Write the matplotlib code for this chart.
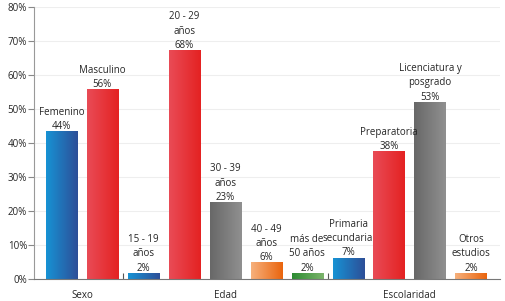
import numpy as np
import matplotlib
matplotlib.use("Agg")
import matplotlib.pyplot as plt
from matplotlib.transforms import blended_transform_factory
from matplotlib.colors import LinearSegmentedColormap

plt.rcParams['font.family'] = ['Open Sans', 'DejaVu Sans']

# -------------------------------
# Data
# -------------------------------
bar_labels = ["Femenino\n44%", "Masculino\n56%",
              "15 - 19\naños\n2%", "20 - 29\naños\n68%", "30 - 39\naños\n23%",
              "40 - 49\naños\n6%", "más de\n50 años\n2%",
              "Primaria\nsecundaria\n7%", "Preparatoria\n38%",
              "Licenciatura y\nposgrado\n53%", "Otros\nestudios\n2%"]
values = [43.5, 55.8, 1.8, 67.3, 22.6, 4.9, 1.8, 6.3, 37.6, 52.1, 1.8]
bar_colors = ["blue", "red", "blue", "red", "gray", "orange", "green",
              "blue", "red", "gray", "orange"]
groups = ["Sexo", "Edad", "Escolaridad"]
group_sizes = [2, 5, 4]

# left -> right gradient colours
gradients = {
    "blue": ("#1792d4", "#2d4f98"),
    "red": ("#e94b56", "#e42222"),
    "gray": ("#686868", "#909090"),
    "orange": ("#f6b07c", "#ea650e"),
    "green": ("#2c8c32", "#7cb46c"),
}

# -------------------------------
# Figure
# -------------------------------
fig = plt.figure(figsize=(5.05, 3.01), dpi=100)
ax = fig.add_axes([34 / 505, 1 - 279 / 301, 466 / 505, 272 / 301])

x = np.arange(len(values))
bars = ax.bar(x, values, width=0.76, color="none", edgecolor="none", zorder=2)

grad = np.linspace(0, 1, 64).reshape(1, -1)
for b, c in zip(bars, bar_colors):
    cmap = LinearSegmentedColormap.from_list(c, gradients[c])
    x0, y0 = b.get_x(), b.get_y()
    w, h = b.get_width(), b.get_height()
    im = ax.imshow(grad, cmap=cmap, aspect="auto", extent=(x0, x0 + w, y0, y0 + h),
                   zorder=2)
    im.set_clip_path(b)

for b, lab in zip(bars, bar_labels):
    ax.annotate(lab, (b.get_x() + b.get_width() / 2, b.get_height()),
                xytext=(0, -0.5), textcoords="offset points", ha="center", va="bottom",
                fontsize=7, color="#262626", linespacing=1.4)

ax.set_xlim(-0.67, 10.71)
ax.set_ylim(0, 80)
ax.set_yticks(np.arange(0, 81, 10))
ax.set_yticklabels([f"{v}%" for v in range(0, 81, 10)])
ax.yaxis.grid(True, color="#eeeeee", linewidth=0.8, zorder=0)
ax.set_axisbelow(True)

# group separators and names
bounds = np.cumsum(group_sizes)[:-1] - 0.5
ax.set_xticks(bounds)
ax.set_xticklabels([])
ax.tick_params(axis="x", direction="in", length=4, color="#555555")
ax.tick_params(axis="y", direction="out", length=4, color="#888888",
               labelsize=7, labelcolor="#262626", pad=1)

trans = blended_transform_factory(ax.transData, ax.transAxes)
start = 0
for name, n in zip(groups, group_sizes):
    ax.text(start + (n - 1) / 2, -16 / 272, name, transform=trans,
            ha="center", va="center", fontsize=7, color="#262626")
    start += n

for s in ["top", "right"]:
    ax.spines[s].set_visible(False)
ax.spines["left"].set_color("#999999")
ax.spines["bottom"].set_color("#777777")

fig.savefig("out.png", dpi=100)
